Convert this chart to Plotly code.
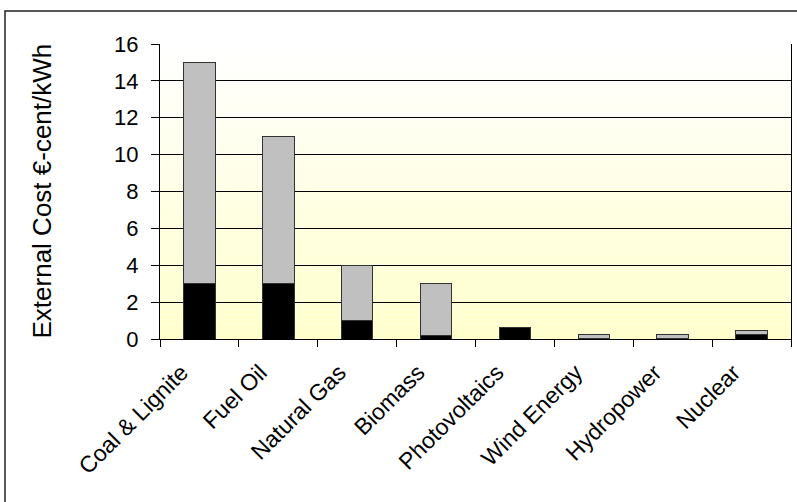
import plotly.graph_objects as go

# External cost ranges of electricity generation (€-cent/kWh)
technologies = ["Coal & Lignite", "Fuel Oil", "Natural Gas", "Biomass",
                "Photovoltaics", "Wind Energy", "Hydropower", "Nuclear"]
cost_low = [3.0, 3.0, 1.0, 0.2, 0.6, 0.05, 0.03, 0.22]
cost_high = [15.0, 11.0, 4.0, 3.0, 0.6, 0.27, 0.27, 0.46]
y_ticks = [0, 2, 4, 6, 8, 10, 12, 14, 16]

cost_span = [h - l for l, h in zip(cost_low, cost_high)]

FONT = "Liberation Sans, Arial, sans-serif"
OUTLINE = dict(color="#333333", width=1)

fig = go.Figure()
fig.add_trace(go.Bar(x=technologies, y=cost_low, marker=dict(color="#000000", line=OUTLINE),
                     name="low"))
fig.add_trace(go.Bar(x=technologies, y=cost_span, marker=dict(color="#C0C0C0", line=OUTLINE),
                     name="range"))

# vertical white-to-pale-yellow gradient behind the plot area
n_strips = 60
top_rgb = (255, 255, 255)
bot_rgb = (255, 255, 204)
y_max = y_ticks[-1]
for i in range(n_strips):
    t = i / (n_strips - 1)
    r = round(bot_rgb[0] + (top_rgb[0] - bot_rgb[0]) * t)
    g = round(bot_rgb[1] + (top_rgb[1] - bot_rgb[1]) * t)
    b = round(bot_rgb[2] + (top_rgb[2] - bot_rgb[2]) * t)
    fig.add_shape(type="rect", xref="x domain", yref="y",
                  x0=0, x1=1, y0=y_max * i / n_strips, y1=y_max * (i + 1) / n_strips,
                  fillcolor=f"rgb({r},{g},{b})", line=dict(width=0), layer="below")

# outer chart frame
L, R, T, B = 160, 6, 44, 163
W, H = 797, 502
pw, ph = W - L - R, H - T - B
fig.add_shape(type="rect", xref="paper", yref="paper",
              x0=(5 - L) / pw, x1=(W + 20 - L) / pw,
              y0=-(B + 20) / ph, y1=(H - B - 11) / ph,
              line=dict(color="#222222", width=1.5), fillcolor="rgba(0,0,0,0)", layer="above")

fig.add_annotation(text="External Cost €-cent/kWh", xref="paper", yref="paper",
                   x=(41 - L) / pw, y=0.5, textangle=-90, showarrow=False,
                   xanchor="center", yanchor="middle",
                   font=dict(family=FONT, size=26, color="#000000"))

fig.update_layout(
    width=W, height=H,
    margin=dict(l=L, r=R, t=T, b=B, pad=0),
    barmode="stack", bargap=0.6,
    showlegend=False,
    paper_bgcolor="#FFFFFF", plot_bgcolor="rgba(0,0,0,0)",
    font=dict(family=FONT, color="#000000"),
)
fig.update_xaxes(
    type="category", tickson="boundaries", ticks="outside", ticklen=7,
    tickcolor="#000000", tickwidth=1, tickangle=-45,
    ticklabelstandoff=10, ticklabelshift=-18,
    tickfont=dict(family=FONT, size=23, color="#000000"),
    showline=True, linecolor="#000000", linewidth=1, showgrid=False,
)
fig.update_yaxes(
    range=[0, 16], tickvals=y_ticks, ticks="outside", ticklen=8,
    tickcolor="#000000", tickwidth=1, ticklabelstandoff=8,
    tickfont=dict(family=FONT, size=22, color="#000000"),
    showline=True, linecolor="#000000", linewidth=1, mirror=True,
    showgrid=True, gridcolor="#000000", gridwidth=1, zeroline=False,
)

fig.write_html("out.html")
